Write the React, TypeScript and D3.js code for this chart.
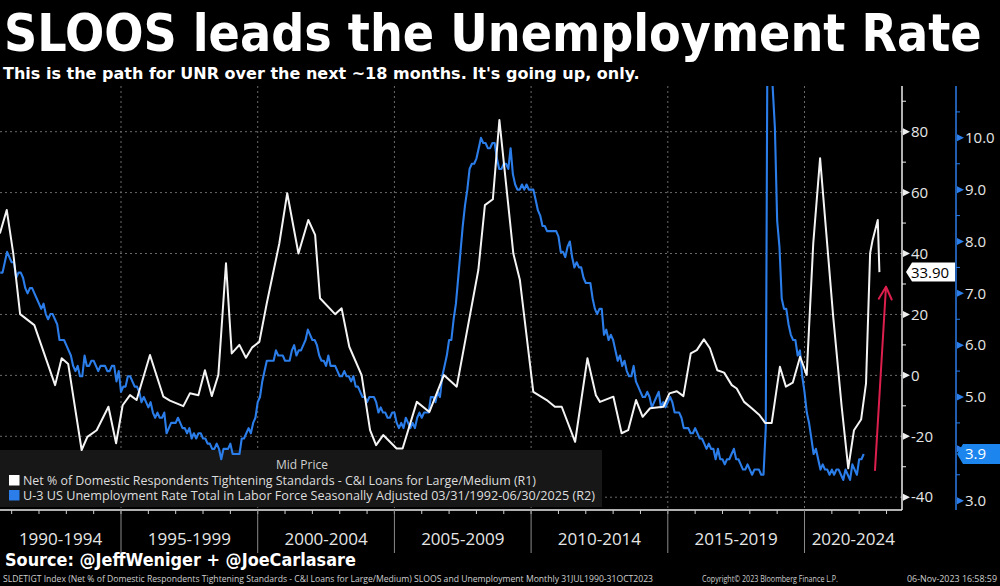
import React, { useLayoutEffect, useRef, useState } from "react";
import * as d3 from "d3";

// ---------- DATA ----------
// SLOOS: Net % of domestic respondents tightening standards, C&I loans large/medium (R1)
const sloosDates = [
  1990.57, 1990.82, 1991.06, 1991.31, 1991.83, 1992.59, 1992.83, 1993.07, 1993.56, 1993.77,
  1994.11, 1994.54, 1994.82, 1995.06, 1995.33, 1995.57, 1996.06, 1996.55, 1996.79, 1997.28,
  1997.52, 1997.83, 1998.07, 1998.32, 1998.56, 1998.84, 1999.05, 1999.33, 1999.57, 1999.8,
  2000.06, 2000.33, 2000.79, 2001.08, 2001.49, 2001.85, 2002.1, 2002.28, 2002.83, 2003.07,
  2003.35, 2003.8, 2004.11, 2004.33, 2004.59, 2005.08, 2005.3, 2005.82, 2006.28, 2006.81,
  2007.28, 2008.07, 2008.31, 2008.6, 2008.84, 2009.35, 2009.59, 2010.08, 2010.57, 2010.87,
  2011.12, 2011.61, 2012.06, 2012.37, 2012.52, 2013.01, 2013.31, 2013.55, 2013.84, 2014.08,
  2014.35, 2014.84, 2015.06, 2015.33, 2015.57, 2015.84, 2016.06, 2016.32, 2016.54, 2016.81,
  2017.06, 2017.34, 2017.52, 2017.79, 2018.07, 2018.35, 2018.56, 2018.8, 2019.1, 2019.32,
  2019.57, 2019.84, 2020.08, 2020.32, 2020.57, 2021.05, 2021.36, 2021.6, 2021.81, 2022.07,
  2022.25, 2022.4, 2022.49, 2022.68, 2022.74,
];
const sloosValues = [
  46.6, 54.3, 40, 20.1, 16.5, -3.2, 5.6, 3.7, -24.5, -20.2,
  -18, -10.3, -22.3, -9.8, -6.5, -8.1, 6.7, -7, -8.3, -10.1,
  -5.9, -6.5, 1.7, -6.8, 0.1, 36.8, 7.2, 10, 5.8, 9.2,
  11, 23.6, 43.3, 59.8, 40, 51, 46.1, 25.3, 20.1, 22,
  9.4, 0.1, -18, -22.9, -19.6, -24, -24, -8.7, -12, 0.1,
  -3.7, 34.6, 55.9, 57.8, 83.8, 40, 31.3, -5.4, -8.1, -10.3,
  -10.3, -21.8, 5.6, -6.5, -8.7, -7, -19, -18, -8.1, -13.6,
  -10.8, -10.3, -5.9, -5.2, -6.8, 7.2, 8.3, 11.8, 8.9, 1.7,
  0.9, -3.2, -4.3, -8.7, -10.8, -13, -15.6, -15.6, 2.8, -3.7,
  -2.4, 6.1, 0.1, 43.3, 71.3, 19.2, -10.3, -30.5, -18, -14.5,
  -2.6, 40.1, 44.4, 51, 33.9,
];

// U-3 unemployment rate, monthly, Mar 1992 .. Oct 2023 (R2), plotted 20 months earlier
const unrStartYear = 1992;
const unrStartMonth = 3;
const unrLeadMonths = 20;
const unrValues = [
  7.4, 7.4, 7.6, 7.8, 7.7, 7.6, 7.6, 7.3, 7.4, 7.4,
  7.3, 7.1, 7.0, 7.1, 7.1, 7.0, 6.9, 6.8, 6.7, 6.8, 6.6, 6.5,
  6.6, 6.6, 6.5, 6.4, 6.1, 6.1, 6.1, 6.0, 5.9, 5.8, 5.6, 5.5,
  5.6, 5.4, 5.4, 5.8, 5.6, 5.6, 5.7, 5.7, 5.6, 5.5, 5.6, 5.6,
  5.6, 5.5, 5.5, 5.6, 5.6, 5.3, 5.5, 5.1, 5.2, 5.2, 5.4, 5.4,
  5.3, 5.2, 5.2, 5.1, 4.9, 5.0, 4.9, 4.8, 4.9, 4.7, 4.6, 4.7,
  4.6, 4.6, 4.7, 4.3, 4.4, 4.5, 4.5, 4.5, 4.6, 4.5, 4.4, 4.4,
  4.3, 4.4, 4.2, 4.3, 4.2, 4.3, 4.3, 4.2, 4.2, 4.1, 4.1, 4.0,
  4.0, 4.1, 4.0, 3.8, 4.0, 4.0, 4.0, 4.1, 3.9, 3.9, 3.9, 3.9,
  4.2, 4.2, 4.3, 4.4, 4.3, 4.5, 4.6, 4.9, 5.0, 5.3, 5.5, 5.7,
  5.7, 5.7, 5.7, 5.9, 5.8, 5.8, 5.8, 5.7, 5.7, 5.7, 5.9, 6.0,
  5.8, 5.9, 5.9, 6.0, 6.1, 6.3, 6.2, 6.1, 6.1, 6.0, 5.8, 5.7,
  5.7, 5.6, 5.8, 5.6, 5.6, 5.6, 5.5, 5.4, 5.4, 5.5, 5.4, 5.4,
  5.3, 5.4, 5.2, 5.2, 5.1, 5.0, 5.0, 4.9, 5.0, 5.0, 5.0, 4.9,
  4.7, 4.8, 4.7, 4.7, 4.6, 4.6, 4.7, 4.7, 4.5, 4.4, 4.5, 4.4,
  4.6, 4.5, 4.4, 4.5, 4.4, 4.6, 4.7, 4.6, 4.7, 4.7, 4.7, 5.0,
  5.0, 4.9, 5.1, 5.0, 5.4, 5.6, 5.8, 6.1, 6.1, 6.5, 6.8, 7.3,
  7.8, 8.3, 8.7, 9.0, 9.4, 9.5, 9.5, 9.6, 9.8, 10.0, 9.9, 9.9,
  9.8, 9.8, 9.9, 9.9, 9.6, 9.4, 9.4, 9.5, 9.5, 9.4, 9.8, 9.3,
  9.1, 9.0, 9.0, 9.1, 9.0, 9.1, 9.0, 9.0, 9.0, 8.8, 8.6, 8.5,
  8.3, 8.3, 8.2, 8.2, 8.2, 8.2, 8.2, 8.1, 7.8, 7.8, 7.7, 7.9,
  8.0, 7.7, 7.5, 7.6, 7.5, 7.5, 7.3, 7.2, 7.2, 7.2, 6.9, 6.7,
  6.6, 6.7, 6.7, 6.2, 6.3, 6.1, 6.2, 6.1, 5.9, 5.7, 5.8, 5.6,
  5.7, 5.5, 5.4, 5.4, 5.6, 5.3, 5.2, 5.1, 5.0, 5.0, 5.1, 5.0,
  4.8, 4.9, 5.0, 5.1, 4.8, 4.9, 4.8, 4.9, 5.0, 4.9, 4.7, 4.7,
  4.7, 4.6, 4.4, 4.4, 4.4, 4.3, 4.3, 4.4, 4.3, 4.2, 4.2, 4.1,
  4.0, 4.1, 4.0, 4.0, 3.8, 4.0, 3.8, 3.8, 3.7, 3.8, 3.8, 3.9,
  4.0, 3.8, 3.8, 3.7, 3.6, 3.6, 3.7, 3.6, 3.5, 3.6, 3.6, 3.6,
  3.5, 3.5, 4.4, 14.8, 13.2, 11.0, 10.2, 8.4, 7.9, 6.9, 6.7, 6.7,
  6.4, 6.2, 6.1, 6.1, 5.8, 5.9, 5.4, 5.1, 4.7, 4.5, 4.2, 3.9,
  4.0, 3.8, 3.6, 3.7, 3.6, 3.6, 3.5, 3.6, 3.5, 3.6, 3.6, 3.5,
  3.4, 3.6, 3.5, 3.4, 3.7, 3.6, 3.5, 3.8, 3.8, 3.9,
];

const r1Ticks = [-40, -20, 0, 20, 40, 60, 80];
const r1Minor = [-30, -10, 10, 30, 50, 70, 90];
const r2Ticks = [3, 4, 5, 6, 7, 8, 9, 10];
const r2Minor = [3.5, 4.5, 5.5, 6.5, 7.5, 8.5, 9.5, 10.5];
const periodBounds = [1995, 2000, 2005, 2010, 2015, 2020];
const periodLabels = ["1990-1994", "1995-1999", "2000-2004", "2005-2009", "2010-2014", "2015-2019", "2020-2024"];
const yearTicks = d3.range(1991, 2024);
const arrowFrom = [2022.578, -31.1];
const arrowTo = [2022.98, 29.1];

const titleText = "SLOOS leads the Unemployment Rate";
const subtitleText = "This is the path for UNR over the next ~18 months. It's going up, only.";
const legendHeader = "Mid Price";
const legend1 = "Net % of Domestic Respondents Tightening Standards - C&I Loans for Large/Medium  (R1)";
const legend2 = "U-3 US Unemployment Rate Total in Labor Force Seasonally Adjusted 03/31/1992-06/30/2025   (R2)";
const sourceText = "Source: @JeffWeniger + @JoeCarlasare";
const footer1 = "SLDETIGT Index (Net % of Domestic Respondents Tightening Standards - C&I Loans for Large/Medium) SLOOS and Unemployment  Monthly 31JUL1990-31OCT2023";
const footer2 = "Copyright\u00A9 2023 Bloomberg Finance L.P.";
const footer3 = "06-Nov-2023 16:58:59";

// ---------- CHART ----------
const W = 1000;
const H = 586;
const plotL = 0, plotR = 902, plotT = 86, plotB = 510;
const axis2X = 956;

const BLUE = "#2b7de9";
const UI_FONT = "'Open Sans', 'Noto Sans', sans-serif";
const BOLD_FONT = "'DejaVu Sans Condensed', 'DejaVu Sans', sans-serif";

// Text horizontally fitted to a target width through a scale transform
function FitText(props: { x: number; y: number; width: number; size: number; bold?: boolean; fill: string; family: string; children: string }) {
  const ref = useRef<SVGTextElement>(null);
  const [sx, setSx] = useState(1);
  useLayoutEffect(() => {
    if (ref.current) {
      const w = ref.current.getComputedTextLength();
      if (w > 0) setSx(props.width / w);
    }
  }, [props.width, props.children]);
  return (
    <text
      ref={ref}
      transform={`translate(${props.x},${props.y}) scale(${sx},1)`}
      fill={props.fill}
      fontFamily={props.family}
      fontWeight={props.bold ? "bold" : "normal"}
      fontSize={props.size}
    >
      {props.children}
    </text>
  );
}

export default function App() {
  const x = d3.scaleLinear().domain([1990.574, 2023.566]).range([plotL, plotR]);
  const y1 = d3.scaleLinear().domain([-44.2, 95]).range([plotB, plotT]);
  const y2 = d3.scaleLinear().domain([2.82, 11.0]).range([plotB, plotT]);

  const sloos = sloosDates.map((d, i) => [d, sloosValues[i]] as [number, number]);
  const unr = unrValues.map((v, i) => {
    const m = unrStartMonth + i - unrLeadMonths;
    return [unrStartYear + m / 12, v] as [number, number];
  });

  const line1 = d3.line<[number, number]>().x((d) => x(d[0])).y((d) => y1(d[1]));
  const line2 = d3.line<[number, number]>().x((d) => x(d[0])).y((d) => y2(d[1]));

  const bounds = [x.domain()[0], ...periodBounds, x.domain()[1]];

  const lastS = sloosValues[sloosValues.length - 1];
  const lastU = unrValues[unrValues.length - 1];
  const tagY1 = y1(lastS);
  const tagY2 = y2(lastU);

  const ax0 = x(arrowFrom[0]), ay0 = y1(arrowFrom[1]);
  const ax1 = x(arrowTo[0]), ay1 = y1(arrowTo[1]);
  const ang = Math.atan2(ay1 - ay0, ax1 - ax0);
  const hl = 14, ha = 0.48;
  const w1 = [ax1 - hl * Math.cos(ang - ha), ay1 - hl * Math.sin(ang - ha)];
  const w2 = [ax1 - hl * Math.cos(ang + ha), ay1 - hl * Math.sin(ang + ha)];

  return (
    <svg
      width={W}
      height={H}
      style={{ position: "absolute", left: 0, top: 0, display: "block", background: "#000" }}
    >
      <rect x={0} y={0} width={W} height={H} fill="#000" />
      <defs>
        <clipPath id="plotClip">
          <rect x={plotL} y={plotT} width={plotR - plotL} height={plotB - plotT} />
        </clipPath>
      </defs>

      {/* title */}
      <FitText x={4} y={51} width={978} size={52} bold fill="#fff" family={BOLD_FONT}>{titleText}</FitText>
      <FitText x={3} y={79} width={637} size={16.5} bold fill="#fff" family={BOLD_FONT}>{subtitleText}</FitText>

      {/* gridlines */}
      <g stroke="#6a6a6a" strokeWidth={1} strokeDasharray="2,3">
        {r1Ticks.map((t) => (
          <line key={"h" + t} x1={plotL} x2={plotR} y1={y1(t)} y2={y1(t)} />
        ))}
        {periodBounds.map((b) => (
          <line key={"v" + b} x1={x(b)} x2={x(b)} y1={plotT} y2={plotB} />
        ))}
      </g>

      {/* legend background */}
      <rect x={0} y={450} width={602} height={57} fill="#171717" />

      {/* data lines */}
      <g clipPath="url(#plotClip)" fill="none" strokeLinejoin="round">
        <path d={line2(unr) || ""} stroke={BLUE} strokeWidth={2.1} />
        <path d={line1(sloos) || ""} stroke="#f4f4f4" strokeWidth={2} />
      </g>

      {/* legend */}
      <text x={302} y={469} fill="#cfcfcf" fontFamily={UI_FONT} fontSize={12} textAnchor="middle">{legendHeader}</text>
      <rect x={9} y={475} width={10.5} height={10.5} fill="#fff" />
      <text x={23} y={485} fill="#dedede" fontFamily={UI_FONT} fontSize={12}
        textLength={513} lengthAdjust="spacingAndGlyphs">{legend1}</text>
      <rect x={9} y={490} width={10.5} height={10.5} fill={BLUE} />
      <text x={23} y={500} fill="#dedede" fontFamily={UI_FONT} fontSize={12}
        textLength={572} lengthAdjust="spacingAndGlyphs">{legend2}</text>

      {/* bottom axis */}
      <line x1={plotL} x2={plotR} y1={plotB} y2={plotB} stroke="#b0b0b0" strokeWidth={2} />
      {yearTicks.map((yr) => (
        <line key={"yt" + yr} x1={x(yr)} x2={x(yr)} y1={plotB} y2={plotB + 4} stroke="#cfcfcf" strokeWidth={1} />
      ))}
      {periodBounds.map((b) => (
        <line key={"sep" + b} x1={x(b)} x2={x(b)} y1={plotB} y2={553} stroke="#8a8a8a" strokeWidth={1} />
      ))}
      {periodLabels.map((lab, i) => (
        <text key={lab} x={(x(bounds[i]) + x(bounds[i + 1])) / 2} y={545} fill="#e6e6e6"
          fontFamily={UI_FONT} fontSize={17} textAnchor="middle">{lab}</text>
      ))}

      {/* R1 axis */}
      <line x1={plotR} x2={plotR} y1={plotT} y2={plotB} stroke="#eee" strokeWidth={1.5} />
      {r1Minor.map((t) => (
        <line key={"m1" + t} x1={plotR} x2={plotR + 4} y1={y1(t)} y2={y1(t)} stroke="#eee" strokeWidth={1} />
      ))}
      {r1Ticks.map((t) => (
        <g key={"t1" + t}>
          <polygon points={`${plotR + 1},${y1(t) - 3.5} ${plotR + 8},${y1(t)} ${plotR + 1},${y1(t) + 3.5}`} fill="#eee" />
          <text x={plotR + 9} y={y1(t)} dy="0.35em" fill="#e6e6e6" fontFamily={UI_FONT} fontSize={15}>{t}</text>
        </g>
      ))}

      {/* R2 axis */}
      <line x1={axis2X} x2={axis2X} y1={plotT} y2={plotB} stroke={BLUE} strokeWidth={1.5} />
      {r2Minor.map((t) => (
        <line key={"m2" + t} x1={axis2X} x2={axis2X + 4} y1={y2(t)} y2={y2(t)} stroke={BLUE} strokeWidth={1} />
      ))}
      {r2Ticks.map((t) => (
        <g key={"t2" + t}>
          <polygon points={`${axis2X + 1},${y2(t) - 3.5} ${axis2X + 8},${y2(t)} ${axis2X + 1},${y2(t) + 3.5}`} fill={BLUE} />
          {Math.abs(y2(t) - tagY2) > 16 && (
            <text x={axis2X + 9} y={y2(t)} dy="0.35em" fill="#e6e6e6" fontFamily={UI_FONT} fontSize={15}>{t.toFixed(1)}</text>
          )}
        </g>
      ))}

      {/* value tags */}
      <polygon
        points={`${plotR + 4},${tagY1} ${plotR + 10},${tagY1 - 9.5} ${955},${tagY1 - 9.5} ${955},${tagY1 + 9.5} ${plotR + 10},${tagY1 + 9.5}`}
        fill="#fff"
      />
      <text x={930} y={tagY1} dy="0.36em" fill="#000" fontFamily={UI_FONT} fontSize={15} textAnchor="middle">{lastS.toFixed(2)}</text>
      <polygon
        points={`${axis2X + 1},${tagY2} ${axis2X + 7},${tagY2 - 10} ${W},${tagY2 - 10} ${W},${tagY2 + 10} ${axis2X + 7},${tagY2 + 10}`}
        fill="#1c86ee"
      />
      <text x={axis2X + 9} y={tagY2} dy="0.36em" fill="#fff" fontFamily={UI_FONT} fontSize={15}>{lastU.toFixed(1)}</text>

      {/* red arrow */}
      <g stroke="#dc1f4d" strokeWidth={2} fill="none" strokeLinecap="round" strokeLinejoin="round">
        <line x1={ax0} y1={ay0} x2={ax1} y2={ay1} />
        <polyline points={`${w1[0]},${w1[1]} ${ax1},${ay1} ${w2[0]},${w2[1]}`} />
      </g>

      {/* source & footer */}
      <FitText x={5} y={566} width={351} size={17.5} bold fill="#fff" family={BOLD_FONT}>{sourceText}</FitText>
      <text x={3} y={582} fill="#cfcfcf" fontFamily={UI_FONT} fontSize={8.5}
        textLength={650} lengthAdjust="spacingAndGlyphs">{footer1}</text>
      <text x={702} y={582} fill="#cfcfcf" fontFamily={UI_FONT} fontSize={8.5}
        textLength={136} lengthAdjust="spacingAndGlyphs">{footer2}</text>
      <text x={907} y={582} fill="#cfcfcf" fontFamily={UI_FONT} fontSize={8.5}
        textLength={90} lengthAdjust="spacingAndGlyphs">{footer3}</text>
    </svg>
  );
}
